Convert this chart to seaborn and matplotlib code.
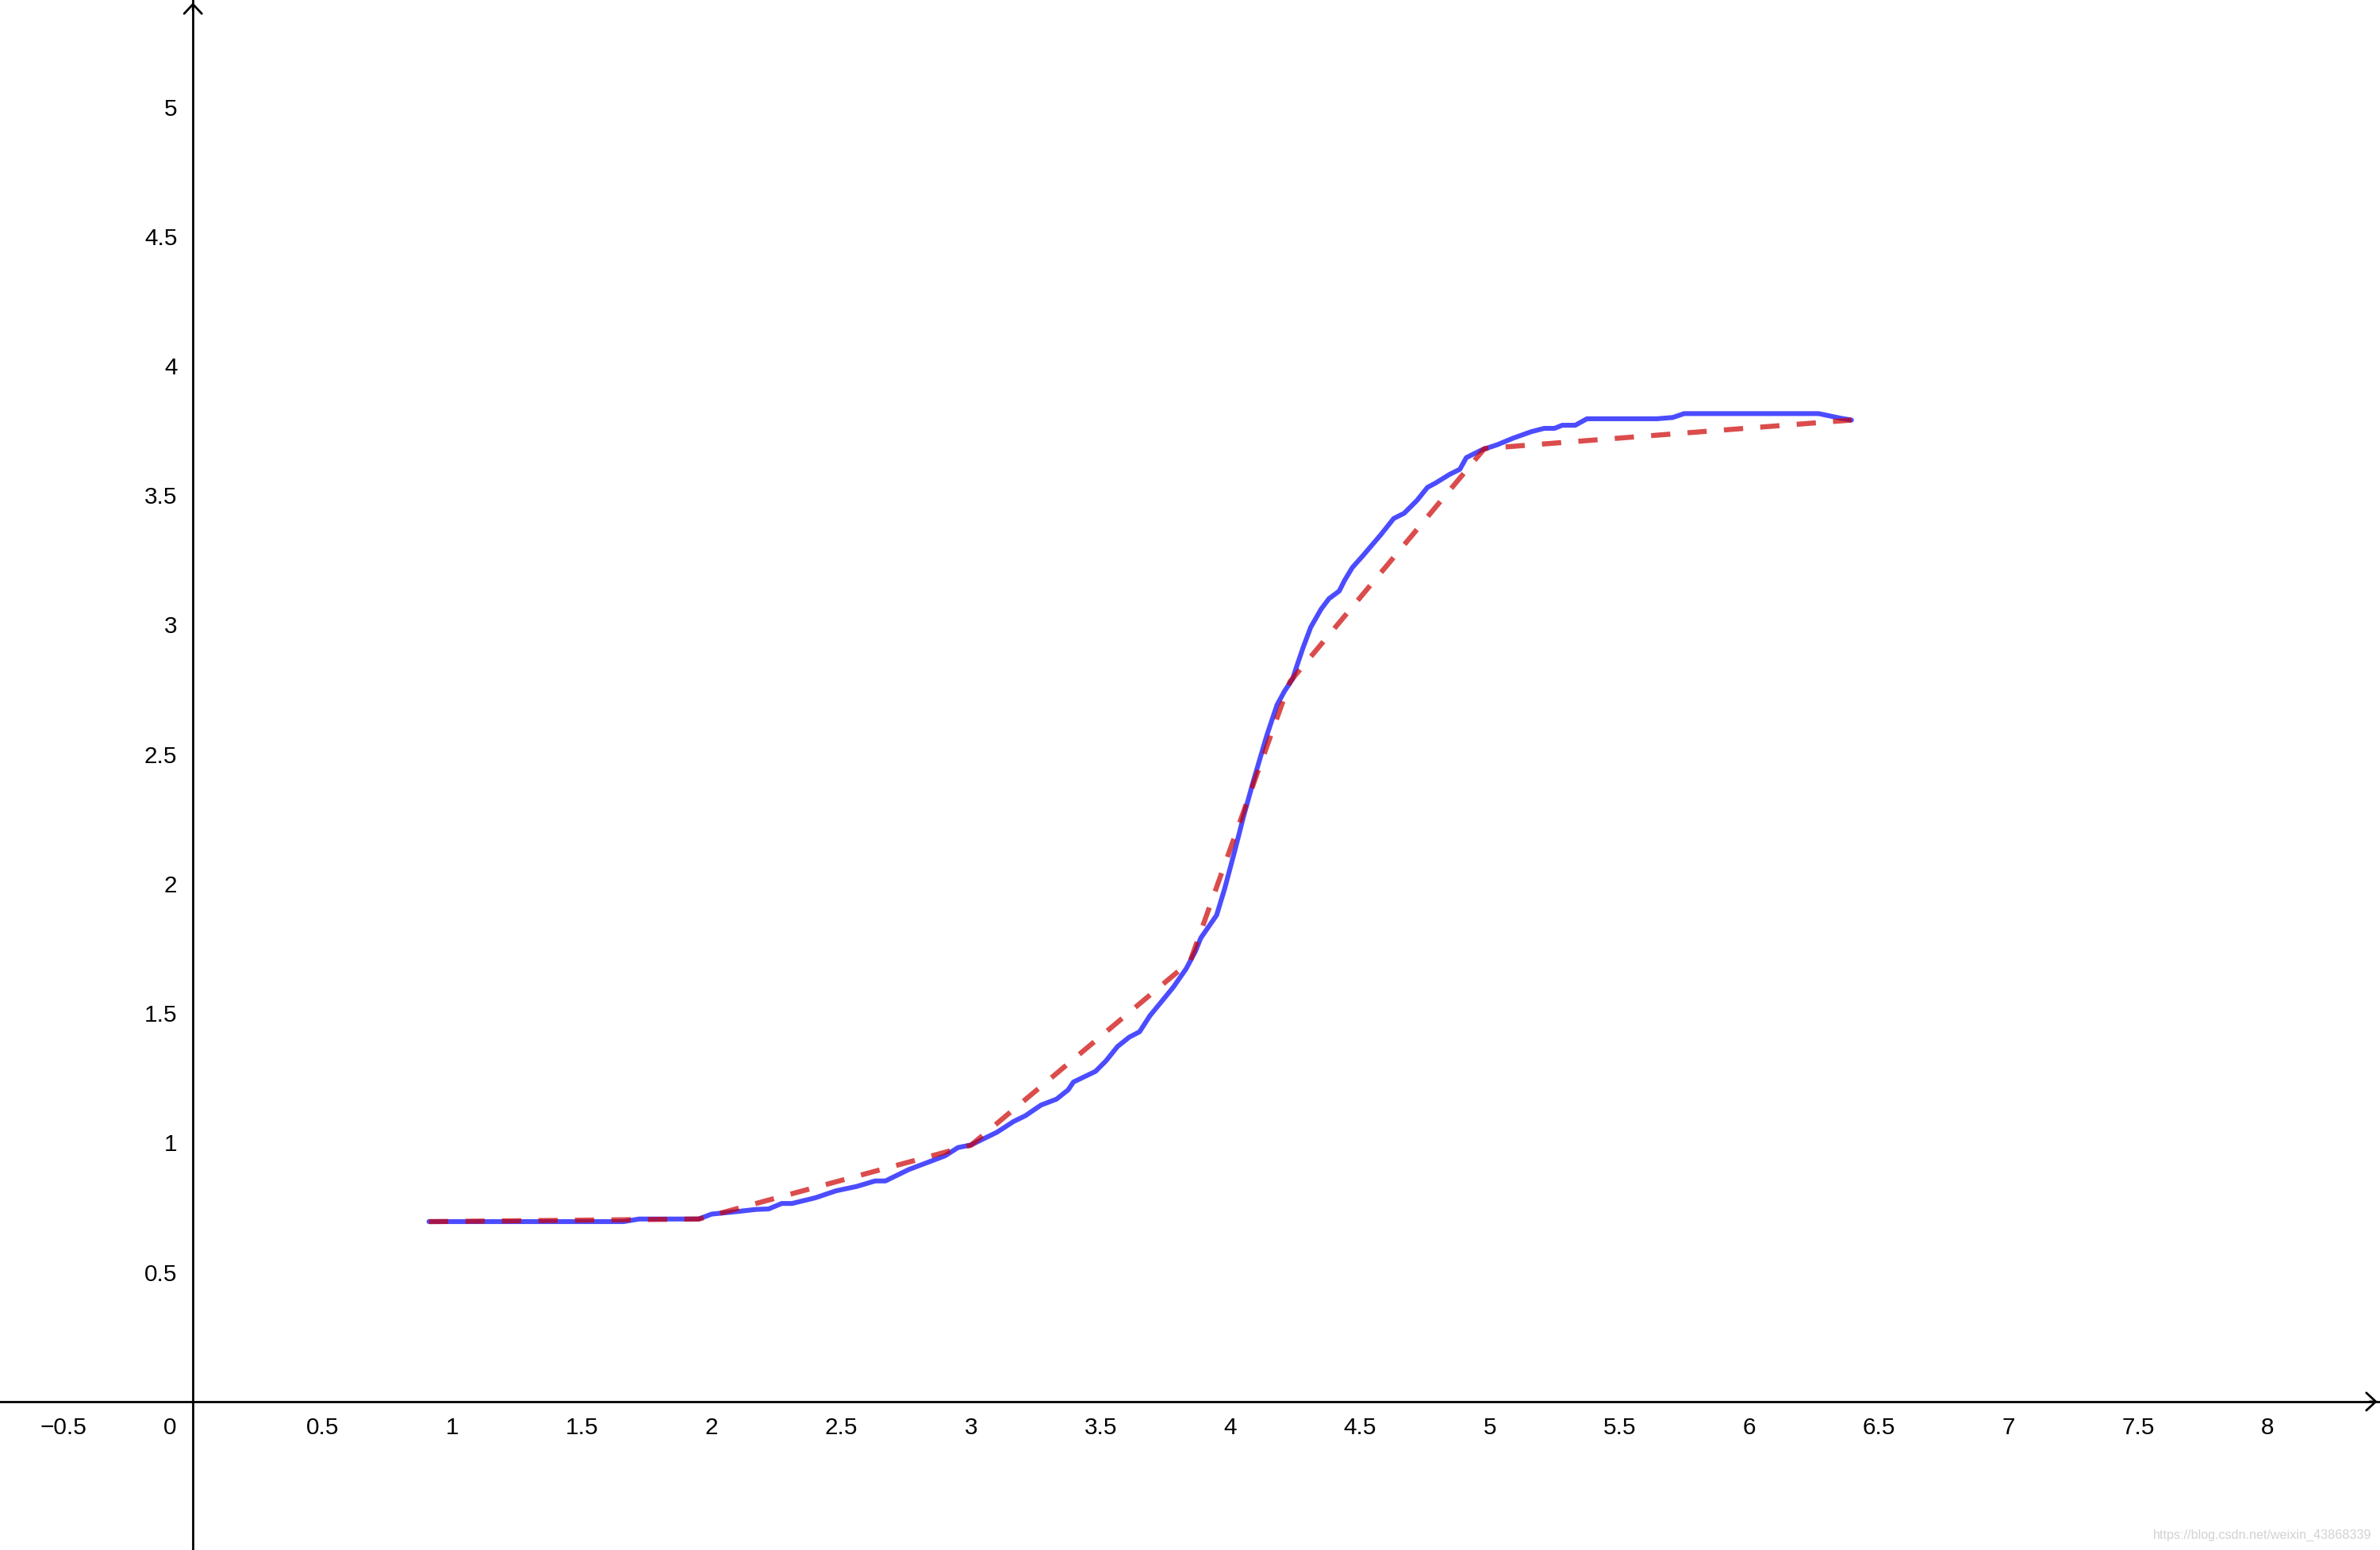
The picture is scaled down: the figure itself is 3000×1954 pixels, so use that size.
import matplotlib
matplotlib.use("Agg")
import matplotlib.pyplot as plt
import seaborn as sns

# measured curve (blue)
x_curve = [0.91, 1.66, 1.72, 1.95, 2.00, 2.10, 2.17, 2.22, 2.27, 2.31,
           2.40, 2.48, 2.56, 2.63, 2.67, 2.76, 2.90, 2.95, 3.00, 3.10,
           3.165, 3.21, 3.27, 3.33, 3.375, 3.395, 3.48, 3.52, 3.565, 3.61,
           3.65, 3.69, 3.78, 3.83, 3.866, 3.886, 3.947, 3.978, 4.019, 4.05,
           4.09, 4.14, 4.18, 4.21, 4.24, 4.255, 4.28, 4.31, 4.35, 4.38,
           4.42, 4.44, 4.47, 4.51, 4.58, 4.63, 4.67, 4.72, 4.76, 4.79,
           4.845, 4.885, 4.91, 4.97, 5.03, 5.09, 5.16, 5.21, 5.25, 5.28,
           5.33, 5.375, 5.645, 5.706, 5.75, 6.268, 6.354, 6.395]
y_curve = [0.695, 0.695, 0.705, 0.705, 0.724, 0.734, 0.742, 0.744, 0.765, 0.765,
           0.787, 0.814, 0.831, 0.852, 0.852, 0.896, 0.949, 0.981, 0.991, 1.04,
           1.082, 1.104, 1.145, 1.168, 1.204, 1.234, 1.275, 1.315, 1.371, 1.407,
           1.428, 1.49, 1.60, 1.672, 1.74, 1.79, 1.878, 1.98, 2.134, 2.256,
           2.40, 2.57, 2.69, 2.745, 2.79, 2.836, 2.91, 2.99, 3.06, 3.10,
           3.13, 3.17, 3.22, 3.265, 3.347, 3.41, 3.43, 3.48, 3.53, 3.546,
           3.58, 3.60, 3.645, 3.675, 3.695, 3.72, 3.745, 3.758, 3.758, 3.77,
           3.77, 3.795, 3.795, 3.80, 3.815, 3.815, 3.797, 3.79]

# piecewise linear fit (red dashed)
x_knots = [0.91, 1.95, 3.0, 3.845, 4.23, 4.98, 6.395]
y_knots = [0.695, 0.705, 0.99, 1.70, 2.78, 3.68, 3.79]

x_ticks = [-0.5, 0.5, 1, 1.5, 2, 2.5, 3, 3.5, 4, 4.5, 5, 5.5, 6, 6.5, 7, 7.5, 8]
y_ticks = [-0.5, 0.5, 1, 1.5, 2, 2.5, 3, 3.5, 4, 4.5, 5]

xmin, xmax = -0.744, 8.433
ymin, ymax = -0.573, 5.412

sns.set_theme(style="white")
plt.rcParams["font.family"] = ["Liberation Sans", "DejaVu Sans"]

fig = plt.figure(figsize=(15, 9.77), dpi=200)
ax = fig.add_axes([0, 0, 1, 1])
ax.set_facecolor("white")

sns.lineplot(x=x_curve, y=y_curve, ax=ax, color=(0, 0, 1), alpha=0.7, linewidth=2.2,
             errorbar=None, solid_capstyle="round", solid_joinstyle="round", zorder=3)
sns.lineplot(x=x_knots, y=y_knots, ax=ax, color=(0.8, 0, 0), alpha=0.7, linewidth=2.3,
             errorbar=None, linestyle=(0, (3.8, 3.4)), dash_capstyle="butt", zorder=4)

ax.set_xlim(xmin, xmax)
ax.set_ylim(ymin, ymax)

# axes through the origin
for side in ["top", "right"]:
    ax.spines[side].set_visible(False)
for side in ["left", "bottom"]:
    ax.spines[side].set_position(("data", 0))
    ax.spines[side].set_color("black")
    ax.spines[side].set_linewidth(1.0)

arrow = dict(arrowstyle="->,head_length=0.43,head_width=0.4", mutation_scale=10,
             lw=1.0, color="black", shrinkA=0, shrinkB=0)
ax.annotate("", xy=(xmax - 0.01, 0), xytext=(xmax - 0.04, 0), arrowprops=arrow)
ax.annotate("", xy=(0, ymax - 0.01), xytext=(0, ymax - 0.04), arrowprops=arrow)

ax.set_xticks(x_ticks)
ax.set_xticklabels([("\u2212" if v < 0 else "") + f"{abs(v):g}" for v in x_ticks])
ax.set_yticks(y_ticks)
ax.set_yticklabels(["" if v < 0 else f"{v:g}" for v in y_ticks])
ax.tick_params(axis="x", direction="out", length=2.5, width=1.0, pad=4.2,
               labelsize=10.7, colors="black")
ax.tick_params(axis="y", direction="out", length=2.9, width=1.0, pad=4.2,
               labelsize=10.7, colors="black")
ax.set_xlabel("")
ax.set_ylabel("")
ax.grid(False)

ax.annotate("0", xy=(0, 0), xytext=(-7.6, -6.7), textcoords="offset points",
            ha="right", va="top", fontsize=10.7, color="black")

fig.text(0.9965, 0.0097, "https://blog.csdn.net/weixin_43868339", ha="right", va="center",
         fontsize=5.8, color="#d2d2d2")

fig.savefig("out.png", dpi=200)
